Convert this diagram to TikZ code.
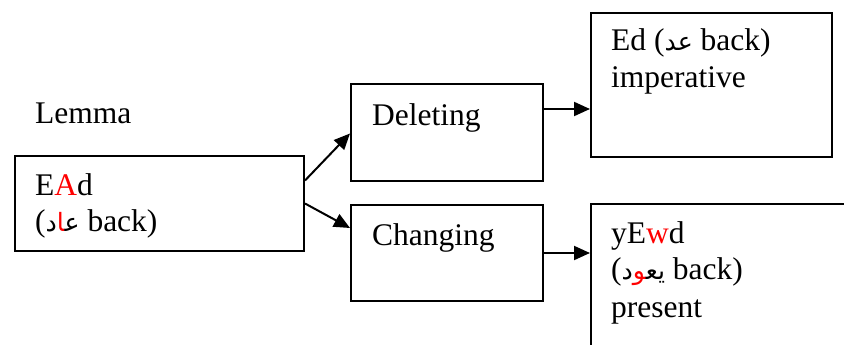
\documentclass[tikz,border=0pt]{standalone}
\usepackage{fontspec}
\usepackage{xcolor}
\setmainfont{Liberation Serif}
\newfontfamily\arabicfont[Script=Arabic,Scale=0.8]{DejaVu Sans}
\usetikzlibrary{arrows.meta}
% zero-width joiner, keeps letters joined across a colour change
\newcommand{\zwj}{^^^^200d}
\tikzset{
  box/.style={draw, line width=2pt, rectangle, inner sep=0pt, anchor=north west},
  txt/.style={anchor=base west, inner sep=0pt, font=\fontsize{31.5}{36}\selectfont},
  link/.style={line width=2pt, -{Triangle[length=16pt,width=14pt]}},
}
\begin{document}
\begin{tikzpicture}[x=1pt, y=-1pt]
\useasboundingbox (0,0) rectangle (844,345);

% boxes
\node[box, minimum width=289pt, minimum height=95pt]  (lemma) at (14,155) {};
\node[box, minimum width=192pt, minimum height=97pt]  (del)   at (350,83) {};
\node[box, minimum width=192pt, minimum height=96pt]  (chg)   at (350,204) {};
\node[box, minimum width=241pt, minimum height=144pt] (imp)   at (590,12) {};
\node[box, minimum width=270pt, minimum height=160pt] (pres)  at (590,203) {};

% texts
\node[txt] (title) at (35,123) {Lemma};
\node[txt] (ead)   at (35,195) {E{\color{red}A}d};
\node[txt] (eadar) at (35,231) {({\arabicfont د}{\arabicfont\color{red}\zwj ا}{\arabicfont ع\zwj} back)};
\node[txt] (deltx) at (372,125) {Deleting};
\node[txt] (chgtx) at (372,245) {Changing};
\node[txt] (edtx)  at (611,51)  {Ed ({\arabicfont عد} back)};
\node[txt] (imptx) at (611,88)  {imperative};
\node[txt] (yewd)  at (611,243) {yE{\color{red}w}d};
\node[txt] (yewar) at (611,279) {({\arabicfont د}{\arabicfont\color{red}\zwj و}{\arabicfont يع\zwj} back)};
\node[txt] (prtx)  at (611,317) {present};

% connectors
\draw[link] ([yshift=23pt]lemma.east) -- ([yshift=-1pt]del.west);
\draw[link] (lemma.east) -- ([yshift=25pt]chg.west);
\coordinate (d1) at ([yshift=23.5pt]del.east);
\draw[link] (d1) -- (d1 -| imp.west);
\draw[link] (chg.east) -- (chg.east -| pres.west);
\end{tikzpicture}
\end{document}
